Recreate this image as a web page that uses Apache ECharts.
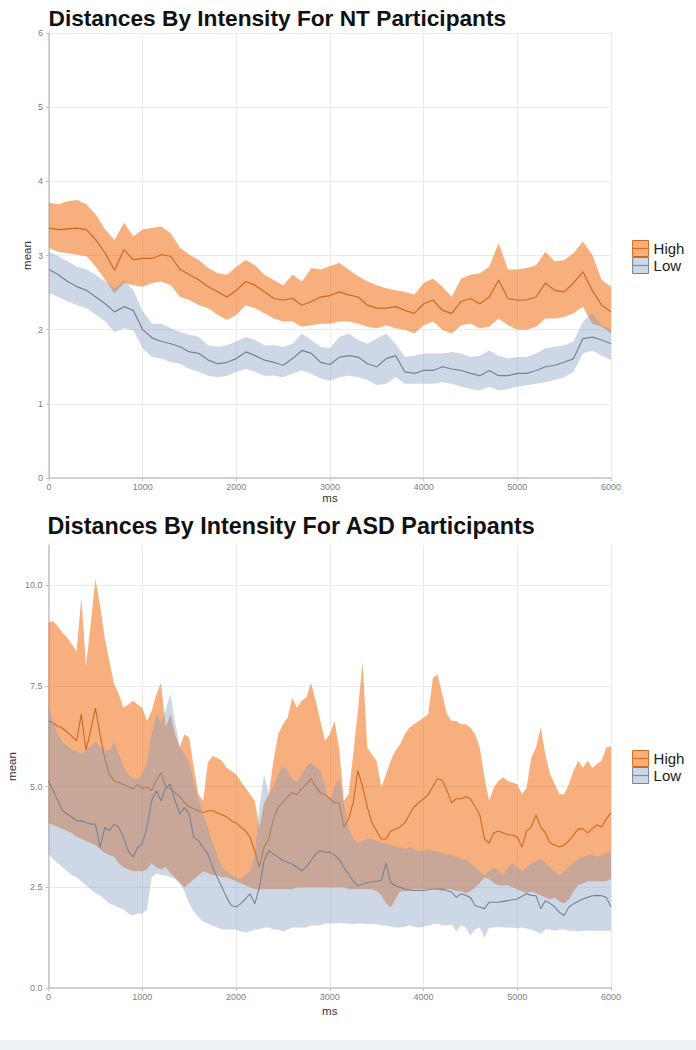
<!DOCTYPE html>
<html><head><meta charset="utf-8">
<script src="https://cdn.jsdelivr.net/npm/echarts@6/dist/echarts.min.js"></script>
<style>html,body{margin:0;padding:0;background:#fff}#c{width:696px;height:1050px}</style>
</head><body><div id="c"></div>
<script>
// ---------- NT participants (every 100 ms) ----------
const ntMs = [
  0,100,200,300,400,500,600,700,800,900,
  1000,1100,1200,1300,1400,1500,1600,1700,1800,1900,
  2000,2100,2200,2300,2400,2500,2600,2700,2800,2900,
  3000,3100,3200,3300,3400,3500,3600,3700,3800,3900,
  4000,4100,4200,4300,4400,4500,4600,4700,4800,4900,
  5000,5100,5200,5300,5400,5500,5600,5700,5800,5900,
  6000];
const ntHighMean = [
  3.37,3.35,3.36,3.37,3.35,3.21,3.03,2.80,3.08,2.94,
  2.96,2.96,3.01,2.99,2.81,2.74,2.67,2.58,2.51,2.44,
  2.53,2.65,2.60,2.51,2.42,2.40,2.42,2.33,2.38,2.44,
  2.46,2.51,2.47,2.44,2.33,2.29,2.29,2.31,2.26,2.22,
  2.35,2.40,2.26,2.22,2.38,2.42,2.35,2.44,2.67,2.42,
  2.40,2.40,2.44,2.63,2.53,2.51,2.63,2.78,2.53,2.33,
  2.24];
const ntHighUpper = [
  3.71,3.69,3.73,3.75,3.69,3.55,3.35,3.21,3.44,3.26,
  3.35,3.37,3.39,3.30,3.10,3.01,2.94,2.83,2.76,2.74,
  2.85,2.94,2.87,2.74,2.67,2.60,2.74,2.65,2.83,2.81,
  2.86,2.90,2.81,2.72,2.65,2.60,2.56,2.53,2.51,2.47,
  2.63,2.69,2.58,2.44,2.69,2.74,2.76,2.85,3.17,2.81,
  2.81,2.83,2.87,3.05,2.92,2.94,3.03,3.19,3.01,2.67,
  2.58];
const ntHighLower = [
  3.10,3.05,3.03,3.01,2.99,2.85,2.67,2.49,2.63,2.60,
  2.58,2.63,2.65,2.60,2.44,2.40,2.33,2.29,2.20,2.13,
  2.20,2.33,2.29,2.22,2.15,2.11,2.11,2.04,2.06,2.08,
  2.08,2.11,2.11,2.08,2.04,2.02,2.06,2.02,2.00,1.95,
  2.06,2.11,2.00,1.95,2.06,2.08,2.02,2.04,2.15,2.06,
  2.00,2.00,2.04,2.15,2.15,2.17,2.22,2.31,2.08,2.04,
  1.95];
const ntLowMean = [
  2.81,2.74,2.65,2.58,2.53,2.44,2.35,2.24,2.31,2.26,
  2.00,1.89,1.84,1.81,1.77,1.70,1.68,1.59,1.54,1.56,
  1.61,1.70,1.65,1.59,1.56,1.52,1.61,1.72,1.68,1.56,
  1.53,1.63,1.65,1.63,1.54,1.50,1.61,1.65,1.43,1.41,
  1.45,1.45,1.50,1.47,1.45,1.41,1.38,1.45,1.38,1.38,
  1.41,1.41,1.45,1.50,1.52,1.56,1.61,1.88,1.90,1.86,
  1.81];
const ntLowUpper = [
  3.05,2.99,2.92,2.85,2.81,2.74,2.65,2.56,2.67,2.53,
  2.25,2.08,2.08,2.02,1.97,1.93,1.90,1.79,1.77,1.79,
  1.84,1.90,1.86,1.79,1.79,1.77,1.81,1.95,1.86,1.77,
  1.75,1.90,1.95,1.86,1.81,1.88,1.95,1.81,1.63,1.65,
  1.68,1.68,1.68,1.70,1.68,1.63,1.65,1.72,1.65,1.61,
  1.63,1.63,1.68,1.75,1.77,1.79,1.84,2.11,2.22,2.06,
  2.00];
const ntLowLower = [
  2.49,2.44,2.38,2.33,2.29,2.20,2.11,1.97,2.02,1.99,
  1.75,1.63,1.61,1.56,1.54,1.47,1.43,1.38,1.36,1.38,
  1.43,1.47,1.43,1.38,1.38,1.36,1.41,1.45,1.41,1.34,
  1.31,1.36,1.38,1.36,1.32,1.25,1.27,1.36,1.27,1.27,
  1.27,1.27,1.29,1.27,1.23,1.20,1.18,1.23,1.18,1.20,
  1.23,1.25,1.27,1.29,1.32,1.36,1.43,1.68,1.72,1.65,
  1.59];

// ---------- ASD participants (every 50 ms) ----------
const asdMs = [
  0,50,100,150,200,250,300,350,400,450,
  500,550,600,650,700,750,800,850,900,950,
  1000,1050,1100,1150,1200,1250,1300,1350,1400,1450,
  1500,1550,1600,1650,1700,1750,1800,1850,1900,1950,
  2000,2050,2100,2150,2200,2250,2300,2350,2400,2450,
  2500,2550,2600,2650,2700,2750,2800,2850,2900,2950,
  3000,3050,3100,3150,3200,3250,3300,3350,3400,3450,
  3500,3550,3600,3650,3700,3750,3800,3850,3900,3950,
  4000,4050,4100,4150,4200,4250,4300,4350,4400,4450,
  4500,4550,4600,4650,4700,4750,4800,4850,4900,4950,
  5000,5050,5100,5150,5200,5250,5300,5350,5400,5450,
  5500,5550,5600,5650,5700,5750,5800,5850,5900,5950,
  6000];
const asdHighUpper = [
  9.07,9.11,8.98,8.82,8.70,8.53,8.36,9.69,8.00,9.03,
  10.15,9.50,8.70,8.10,7.55,7.30,6.96,7.04,7.13,7.04,
  6.96,6.63,6.88,7.29,7.58,6.47,6.80,6.30,5.97,6.30,
  6.22,5.47,4.81,4.65,5.60,5.76,5.72,5.64,5.47,5.39,
  5.31,5.14,4.98,4.81,4.65,3.99,4.60,4.81,5.64,6.30,
  6.55,6.71,7.20,6.96,7.13,7.21,7.58,7.13,6.63,6.14,
  6.30,6.63,5.97,4.65,4.81,5.80,6.88,8.10,5.97,5.80,
  5.64,4.98,5.31,5.64,5.89,6.05,6.30,6.47,6.55,6.63,
  6.71,6.80,7.70,7.79,7.29,6.80,6.63,6.63,6.55,6.55,
  6.47,6.30,5.97,5.23,4.65,4.98,5.14,5.23,5.14,5.10,
  5.06,4.81,4.98,5.72,5.97,6.47,5.80,5.31,5.06,4.81,
  4.81,5.06,5.39,5.64,5.47,5.64,5.47,5.56,5.64,5.97,
  6.00];
const asdHighMean = [
  6.63,6.58,6.50,6.45,6.35,6.25,6.14,6.80,5.90,6.40,
  6.95,6.30,5.70,5.30,5.15,5.10,5.05,5.00,4.95,5.05,
  4.95,5.00,4.90,5.15,5.35,5.00,4.95,4.85,4.75,4.60,
  4.50,4.45,4.40,4.35,4.40,4.40,4.35,4.30,4.25,4.15,
  4.10,4.00,3.90,3.75,3.40,3.00,3.50,3.70,4.20,4.50,
  4.60,4.75,4.85,4.80,4.95,5.05,5.20,5.00,4.85,4.80,
  4.70,4.60,4.60,4.00,4.20,4.60,5.40,5.00,4.50,4.10,
  3.90,3.70,3.70,3.90,3.95,4.00,4.10,4.30,4.50,4.60,
  4.70,4.80,5.00,5.20,5.15,4.90,4.60,4.70,4.70,4.75,
  4.70,4.50,4.30,3.70,3.60,3.85,3.90,3.85,3.80,3.80,
  3.75,3.50,3.90,4.00,4.30,4.00,3.85,3.60,3.55,3.50,
  3.55,3.65,3.80,3.95,3.95,3.85,3.95,4.05,4.00,4.20,
  4.35];
const asdHighLower = [
  4.10,4.05,4.00,3.95,3.90,3.85,3.75,3.70,3.65,3.60,
  3.55,3.45,3.35,3.30,3.25,3.10,3.00,2.95,2.90,2.90,
  2.90,2.95,3.10,3.00,2.95,3.00,2.85,2.75,2.60,2.50,
  2.60,2.70,2.80,2.90,2.85,2.80,2.80,2.75,2.75,2.70,
  2.65,2.60,2.55,2.50,2.45,2.45,2.45,2.45,2.45,2.45,
  2.45,2.45,2.45,2.50,2.50,2.50,2.50,2.50,2.50,2.50,
  2.50,2.50,2.50,2.50,2.45,2.45,2.45,2.45,2.45,2.45,
  2.40,2.30,2.10,2.00,2.20,2.40,2.40,2.40,2.45,2.45,
  2.45,2.45,2.45,2.45,2.40,2.45,2.45,2.40,2.40,2.35,
  2.40,2.50,2.60,2.75,2.70,2.60,2.55,2.55,2.55,2.50,
  2.45,2.40,2.35,2.40,2.35,2.30,2.25,2.20,2.25,2.15,
  2.10,2.20,2.40,2.55,2.60,2.65,2.65,2.65,2.65,2.65,
  2.70];
const asdLowUpper = [
  7.00,6.60,6.30,6.10,6.00,5.90,5.90,5.80,5.90,6.00,
  6.10,6.00,5.90,5.90,6.10,5.80,5.50,5.30,5.20,5.20,
  5.30,5.60,6.30,6.80,6.60,6.90,7.30,6.60,6.00,5.80,
  5.60,5.10,4.70,4.30,4.00,3.60,3.30,3.00,2.90,2.80,
  2.75,2.70,2.80,2.90,3.30,4.50,5.30,4.80,5.00,5.30,
  5.50,5.40,5.20,5.10,5.30,5.50,5.60,5.50,5.40,5.00,
  4.60,5.00,5.20,4.60,4.00,3.70,3.60,3.65,3.70,3.70,
  3.65,3.60,3.60,3.55,3.50,3.50,3.45,3.50,3.45,3.40,
  3.40,3.45,3.40,3.40,3.35,3.30,3.30,3.25,3.20,3.20,
  3.10,3.00,2.90,2.80,2.90,3.00,2.90,2.80,3.00,3.10,
  3.00,2.90,3.00,3.10,3.15,3.20,3.10,3.00,2.90,2.80,
  2.90,3.00,3.10,3.20,3.25,3.30,3.30,3.25,3.30,3.35,
  3.40];
const asdLowMean = [
  5.14,4.90,4.65,4.40,4.32,4.24,4.15,4.15,4.11,4.07,
  4.07,3.49,3.99,3.91,4.07,3.99,3.74,3.41,3.25,3.49,
  3.58,3.99,4.65,4.90,4.65,4.98,5.06,4.65,4.32,4.48,
  4.32,3.74,3.66,3.49,3.33,3.00,2.75,2.50,2.25,2.05,
  2.01,2.09,2.21,2.34,2.09,2.50,3.16,3.41,3.33,3.25,
  3.16,3.12,3.08,3.00,2.91,3.00,3.16,3.33,3.41,3.37,
  3.38,3.30,3.20,3.00,2.83,2.65,2.54,2.58,2.62,2.64,
  2.65,2.67,3.10,2.62,2.54,2.50,2.46,2.44,2.42,2.42,
  2.42,2.44,2.46,2.46,2.46,2.42,2.38,2.25,2.34,2.30,
  2.25,2.05,2.01,1.97,2.13,2.13,2.13,2.15,2.17,2.19,
  2.21,2.28,2.34,2.30,2.29,1.97,2.17,2.10,2.01,1.88,
  1.80,2.01,2.09,2.15,2.21,2.25,2.29,2.30,2.29,2.25,
  2.01];
const asdLowLower = [
  3.33,3.20,3.10,3.00,2.90,2.80,2.75,2.65,2.55,2.45,
  2.35,2.30,2.20,2.10,2.05,2.00,1.95,1.85,1.80,1.85,
  1.85,1.95,2.75,2.85,2.80,2.80,2.75,2.70,2.60,2.40,
  2.10,1.90,1.75,1.65,1.60,1.55,1.50,1.45,1.45,1.45,
  1.45,1.40,1.38,1.40,1.45,1.45,1.50,1.50,1.45,1.45,
  1.40,1.45,1.50,1.50,1.50,1.50,1.55,1.55,1.55,1.60,
  1.60,1.60,1.62,1.60,1.60,1.58,1.60,1.60,1.58,1.60,
  1.58,1.55,1.55,1.52,1.50,1.50,1.52,1.55,1.52,1.50,
  1.52,1.55,1.58,1.60,1.55,1.55,1.58,1.40,1.55,1.50,
  1.30,1.45,1.50,1.25,1.50,1.50,1.52,1.50,1.50,1.50,
  1.48,1.50,1.48,1.45,1.40,1.35,1.45,1.45,1.42,1.45,
  1.45,1.42,1.42,1.40,1.42,1.42,1.42,1.42,1.42,1.42,
  1.42];

const ntYTicks = [0,1,2,3,4,5,6];
const asdYTicks = [0,2.5,5,7.5,10];
const xTicks = [0,1000,2000,3000,4000,5000,6000];
const groups = ['High','Low'];

// ---------- styling ----------
const FONT = "'Liberation Sans', Arial, sans-serif";
const HI_FILL = 'rgba(240,110,20,0.55)';
const HI_LINE = '#cf6a1c';
const LO_FILL = 'rgba(130,155,192,0.40)';
const LO_LINE = '#74839b';

function pairs(xs, ys){ return xs.map((x,i)=>[x, ys[i]]); }

function band(name, xs, lo, hi, color, idx, z){
  return {
    type:'custom', name: name + ' band', xAxisIndex: idx, yAxisIndex: idx, z: z,
    silent: true, clip: true, animation:false,
    data: [[xs[0], lo[0]]], encode: {x:0, y:1},
    renderItem: function(params, api){
      const pts = [];
      for (let i = 0; i < xs.length; i++) pts.push(api.coord([xs[i], hi[i]]));
      for (let i = xs.length - 1; i >= 0; i--) pts.push(api.coord([xs[i], lo[i]]));
      return {type:'polygon', shape:{points: pts}, style:{fill: color, stroke: null}};
    }
  };
}
function meanLine(name, xs, ys, color, idx, z, w){
  return {
    type:'line', name: name, xAxisIndex: idx, yAxisIndex: idx, z: z,
    data: pairs(xs, ys), showSymbol:false, symbol:'rect', silent:true,
    lineStyle:{color: color, width: w}, itemStyle:{color: color}, animation:false
  };
}

function xAxis(idx, gap){
  return {
    gridIndex: idx, type:'value', min:0, max:6000, interval:1000,
    name:'ms', nameLocation:'middle', nameGap: gap, nameMoveOverlap:false,
    nameTextStyle:{fontSize:11.5, color:'#333', fontFamily:FONT},
    axisLine:{show:true, onZero:false, lineStyle:{color:'#c4c4c4', width:1.5}},
    axisTick:{show:true, length:3, lineStyle:{color:'#c4c4c4'}},
    axisLabel:{fontSize:9, color:'#808080', margin:4, fontFamily:FONT,
      customValues: xTicks, formatter: v => String(v)},
    splitLine:{show:true, lineStyle:{color:'#ebebeb', width:1}}
  };
}

const legendItems = [
  {name:'High', itemStyle:{color:HI_FILL, borderColor:HI_LINE, borderWidth:1}, lineStyle:{color:HI_LINE, width:1.2}},
  {name:'Low', itemStyle:{color:LO_FILL, borderColor:LO_LINE, borderWidth:1}, lineStyle:{color:LO_LINE, width:1.2}}
];
function legend(top){
  return {
    orient:'vertical', left:632, top: top, padding:0, itemGap:0,
    itemWidth:16, itemHeight:20, selectedMode:false,
    textStyle:{fontSize:15, color:'#222', fontFamily:FONT},
    data: legendItems.filter(d => groups.indexOf(d.name) >= 0)
  };
}

const option = {
  backgroundColor:'#ffffff',
  animation:false,
  title:[
    {text:'Distances By Intensity For NT Participants', left:48.5, top:6, padding:0,
     textStyle:{fontSize:22.7, fontWeight:'bold', color:'#111', fontFamily:FONT}},
    {text:'Distances By Intensity For ASD Participants', left:47.5, top:514, padding:0,
     textStyle:{fontSize:23.3, fontWeight:'bold', color:'#111', fontFamily:FONT}}
  ],
  legend:[legend(240), legend(750)],
  grid:[
    {left:49, top:33, width:562, height:445, outerBoundsMode:'none'},
    {left:48.5, top:545, width:562.5, height:443, outerBoundsMode:'none'}
  ],
  xAxis:[xAxis(0, 14), xAxis(1, 17)],
  yAxis:[
    {gridIndex:0, type:'value', min:0, max:6, interval:1,
     name:'mean', nameLocation:'middle', nameGap:16, nameMoveOverlap:false,
     nameTextStyle:{fontSize:11.5, color:'#333', fontFamily:FONT},
     axisLine:{show:true, lineStyle:{color:'#c4c4c4', width:1.5}},
     axisTick:{show:true, length:3, lineStyle:{color:'#c4c4c4'}},
     axisLabel:{fontSize:9, color:'#808080', margin:6, fontFamily:FONT, customValues: ntYTicks},
     splitLine:{show:true, lineStyle:{color:'#ebebeb', width:1}}},
    {gridIndex:1, type:'value', min:0, max:11, interval:2.5,
     name:'mean', nameLocation:'middle', nameGap:31, nameMoveOverlap:false,
     nameTextStyle:{fontSize:11.5, color:'#333', fontFamily:FONT},
     axisLine:{show:true, lineStyle:{color:'#c4c4c4', width:1.5}},
     axisTick:{show:true, length:3, lineStyle:{color:'#c4c4c4'}, customValues: asdYTicks},
     axisLabel:{fontSize:9, color:'#808080', margin:6, fontFamily:FONT,
       customValues: asdYTicks, formatter: v => v.toFixed(1)},
     splitLine:{show:true, lineStyle:{color:['#ebebeb','#ebebeb','#ebebeb','#ebebeb','#ebebeb','rgba(0,0,0,0)'], width:1}}}
  ],
  series:[
    band('High', ntMs, ntHighLower, ntHighUpper, HI_FILL, 0, 2),
    meanLine('High', ntMs, ntHighMean, HI_LINE, 0, 3, 1.2),
    band('Low', ntMs, ntLowLower, ntLowUpper, LO_FILL, 0, 4),
    meanLine('Low', ntMs, ntLowMean, LO_LINE, 0, 5, 1.2),
    band('High', asdMs, asdHighLower, asdHighUpper, HI_FILL, 1, 2),
    meanLine('High', asdMs, asdHighMean, HI_LINE, 1, 3, 1.1),
    band('Low', asdMs, asdLowLower, asdLowUpper, LO_FILL, 1, 4),
    meanLine('Low', asdMs, asdLowMean, LO_LINE, 1, 5, 1.1)
  ],
  graphic:[
    {type:'rect', left:0, top:1040, shape:{width:696, height:10}, style:{fill:'#eef2f7'}, silent:true}
  ]
};

const chart = echarts.init(document.getElementById('c'), null, {renderer:'svg', width:696, height:1050});
chart.setOption(option);
</script>
</body></html>
